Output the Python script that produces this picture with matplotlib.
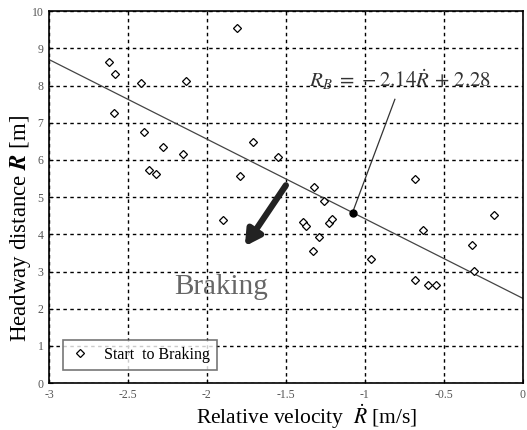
import matplotlib.pyplot as plt

# relative velocity [m/s] and headway distance [m] at start of braking
rel_vel = [-2.62, -2.58, -2.59, -2.42, -2.13, -2.40, -2.28, -2.15, -2.37, -2.32,
           -1.81, -1.71, -1.55, -1.79, -1.32, -1.26, -1.90, -1.39, -1.37, -1.23,
           -1.21, -1.29, -1.33, -0.96, -0.68, -0.18, -0.63, -0.32, -0.31, -0.68,
           -0.60, -0.55]
headway = [8.64, 8.30, 7.27, 8.08, 8.13, 6.74, 6.34, 6.15, 5.73, 5.62,
           9.56, 6.47, 6.08, 5.57, 5.27, 4.91, 4.38, 4.34, 4.23, 4.31,
           4.40, 3.92, 3.56, 3.33, 5.50, 4.52, 4.11, 3.71, 3.02, 2.77,
           2.63, 2.63]

slope, intercept = -2.14, 2.28
line_x = [-3.0, 0.0]
marked_x = -1.078

xticks = [-3, -2.5, -2, -1.5, -1, -0.5, 0]
xtick_labels = ["-3", "-2.5", "-2", "-1.5", "-1", "-0.5", "0"]
yticks = list(range(0, 11))

plt.rcParams["font.family"] = ["Liberation Serif", "DejaVu Serif"]
plt.rcParams["mathtext.fontset"] = "stix"

fig = plt.figure(figsize=(5.27, 4.30), dpi=100)
ax = fig.add_axes([0.093, 0.109, 0.899, 0.865])

ax.grid(True, color="black", linestyle=(0, (2.5, 2.5)), linewidth=1.0)
ax.set_axisbelow(True)

ax.plot(rel_vel, headway, linestyle="none", marker="D", markersize=4.5,
        markerfacecolor="white", markeredgecolor="black", markeredgewidth=0.9,
        label="Start  to Braking", zorder=3)

ax.plot(line_x, [slope * x + intercept for x in line_x], color="#444444",
        linewidth=0.9, zorder=2)

marked_y = slope * marked_x + intercept
ax.plot([marked_x], [marked_y], marker="o", color="black", markersize=5, zorder=4)
ax.plot([-0.81, marked_x], [7.63, marked_y], color="#333333", linewidth=0.9, zorder=3)

ax.text(-0.78, 8.15, r"$R_B\;=\,-2.14\dot{R}\,+\,2.28$", fontsize=15, color="#333333",
        ha="center", va="center")

ax.annotate("", xy=(-1.76, 3.68), xytext=(-1.50, 5.32),
            arrowprops=dict(arrowstyle="-|>,head_length=0.9,head_width=0.5",
                            color="#222222", lw=4.5, shrinkA=0, shrinkB=0))
ax.text(-1.91, 2.58, "Braking", fontsize=21, color="#666666",
        ha="center", va="center")

ax.set_xlim(-3, 0)
ax.set_ylim(0, 10)
ax.set_xticks(xticks, xtick_labels)
ax.set_yticks(yticks)
ax.tick_params(direction="in", length=3, labelsize=8.5, labelcolor="#555555", pad=4)
for s in ax.spines.values():
    s.set_linewidth(1.2)

ax.set_xlabel(r"Relative velocity  $\dot{R}$ [m/s]", fontsize=15.5, va="center")
ax.xaxis.set_label_coords(0.544, -0.09)
ax.set_ylabel(r"Headway distance $\boldsymbol{R}$ [m]", fontsize=16.5, va="center")
ax.yaxis.set_label_coords(-0.06, 0.417)

leg = ax.legend(loc="lower left", bbox_to_anchor=(0.03, 0.035), borderaxespad=0,
                fontsize=11.5, frameon=True, fancybox=False, edgecolor="#555555",
                handletextpad=0.9, borderpad=0.45, handlelength=1.2)
leg.get_frame().set_linewidth(1.2)

fig.savefig("out.png", dpi=100)
